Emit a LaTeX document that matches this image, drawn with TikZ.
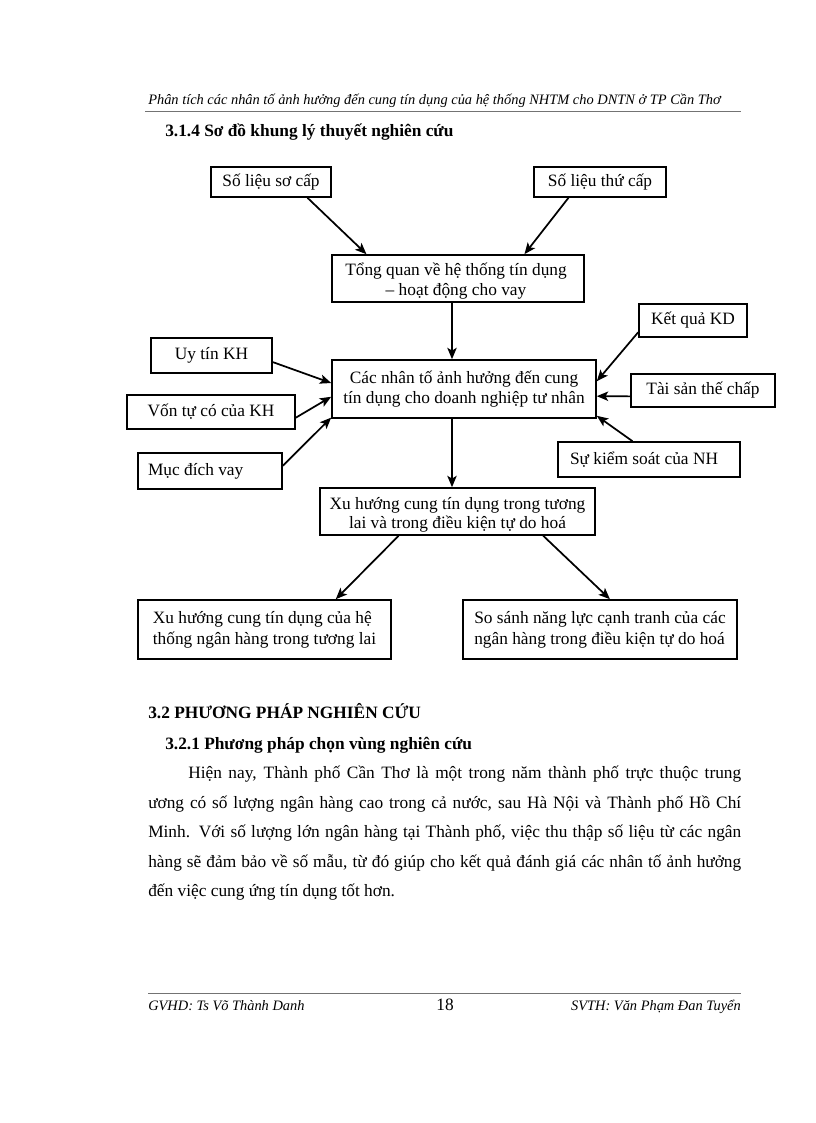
\documentclass[tikz,border=0pt]{standalone}
\usepackage{fontspec}
\setmainfont{Liberation Serif}
\usetikzlibrary{arrows.meta,calc}
\begin{document}
\begin{tikzpicture}[x=0.75pt,y=-0.75pt,
  box/.style={draw, line width=1.2pt, inner sep=0pt, align=center, font=\fontsize{13}{15}\selectfont},
  sz/.style 2 args={minimum width=#1*0.75pt, minimum height=#2*0.75pt},
  arr/.style={-{Stealth[length=8.5pt,width=7pt,inset=2pt]}, line width=1.3pt},
  txt/.style={inner sep=0pt, anchor=base west, font=\fontsize{13}{15}\selectfont},
  ltxt/.style={inner sep=0pt, anchor=base, font=\fontsize{13}{15}\selectfont},
  itx/.style={font=\fontsize{10.8}{13}\selectfont\itshape},
  rule/.style={draw=black!55, line width=0.7pt}]
\useasboundingbox (0,0) rectangle (816,1123);
\fill[white] (0,0) rectangle (816,1123);

% header
\node[txt, itx] (hd) at (148,105) {Phân tích các nhân tố ảnh hưởng đến cung tín dụng của hệ thống NHTM cho DNTN ở TP Cần Thơ};
\draw[rule] (145,111) -- (741,111);
\node[txt, font=\fontsize{13}{15}\selectfont\bfseries] (t1) at (165,137) {3.1.4 Sơ đồ khung lý thuyết nghiên cứu};

% boxes
\node[box, sz={120}{30}] (A) at (271,182) {Số liệu sơ cấp};
\node[box, sz={132}{30}] (B) at (600,182) {Số liệu thứ cấp};
\node[box, sz={252}{47}] (C) at (458,278.5) {};
\begin{scope}
  \clip (C.north west) rectangle (C.south east);
  \node[ltxt] (C1) at (456,275.7) {Tổng quan về hệ thống tín dụng};
  \node[ltxt] (C2) at (456,295) {– hoạt động cho vay};
\end{scope}
\node[box, sz={264}{58}] (D) at (464,389) {Các nhân tố ảnh hưởng đến cung\\tín dụng cho doanh nghiệp tư nhân};
\node[box, sz={108}{33}] (KQ) at (693,320.5) {Kết quả KD};
\node[box, sz={144}{33}] (TS) at (703,390.5) {Tài sản thế chấp};
\node[box, sz={182}{35}, text width=158*0.75pt, inner xsep=9pt, align=flush left] (SKS) at (649,459.5) {Sự kiểm soát của NH};
\node[box, sz={121}{35}] (UT) at (211.5,355.5) {Uy tín KH};
\node[box, sz={168}{34}] (VTC) at (211,412) {Vốn tự có của KH};
\node[box, sz={144}{36}, text width=124*0.75pt, inner xsep=7.5pt, align=flush left] (MDV) at (210,471) {Mục đích vay};
\node[box, sz={275}{47}] (E) at (457.5,511.5) {};
\begin{scope}
  \clip (E.north west) rectangle (E.south east);
  \node[ltxt] (E1) at (457.5,509) {Xu hướng cung tín dụng trong tương};
  \node[ltxt] (E2) at (457.5,528.5) {lai và trong điều kiện tự do hoá};
\end{scope}
\node[box, sz={253}{59}, align=flush left, font=\fontsize{13}{15.75}\selectfont] (F) at (264.5,629.5) {Xu hướng cung tín dụng của hệ\\thống ngân hàng trong tương lai};
\node[box, sz={274}{59}, align=flush left, font=\fontsize{13}{15.75}\selectfont] (G) at (600,629.5) {So sánh năng lực cạnh tranh của các\\ngân hàng trong điều kiện tự do hoá};

% connectors
\coordinate (vx) at (452,0);
\draw[arr] ($(A.south west)!0.8!(A.south east)$) -- ($(C.north west)!0.139!(C.north east)$);
\draw[arr] ($(B.south west)!0.264!(B.south east)$) -- ($(C.north west)!0.762!(C.north east)$);
\draw[arr] (C.south -| vx) -- (D.north -| vx);
\draw[arr] (D.south -| vx) -- (E.north -| vx);
\draw[arr] ($(UT.north east)!0.68!(UT.south east)$) -- ($(D.north west)!0.40!(D.south west)$);
\draw[arr] ($(VTC.north east)!0.66!(VTC.south east)$) -- ($(D.north west)!0.63!(D.south west)$);
\draw[arr] ($(MDV.north east)!0.36!(MDV.south east)$) -- ($(D.north west)!0.98!(D.south west)$);
\draw[arr] ($(KQ.north west)!0.84!(KQ.south west)$) -- ($(D.north east)!0.37!(D.south east)$);
\draw[arr] ($(TS.north west)!0.67!(TS.south west)$) -- ($(D.north east)!0.62!(D.south east)$);
\draw[arr] ($(SKS.north west)!0.41!(SKS.north east)$) -- ($(D.north east)!0.95!(D.south east)$);
\draw[arr] ($(E.south west)!0.287!(E.south east)$) -- ($(F.north west)!0.78!(F.north east)$);
\draw[arr] ($(E.south west)!0.81!(E.south east)$) -- ($(G.north west)!0.536!(G.north east)$);

% section text
\node[txt, font=\fontsize{13}{15}\selectfont\bfseries] (s32) at (148,718) {3.2 PHƯƠNG PHÁP NGHIÊN CỨU};
\node[txt, font=\fontsize{13}{15}\selectfont\bfseries] (s321) at (165,749) {3.2.1 Phương pháp chọn vùng nghiên cứu};
\node[txt] (p1) at (188,778) {\makebox[414.75pt][s]{Hiện nay, Thành phố Cần Thơ là một trong năm thành phố trực thuộc trung}};
\node[txt] (p2) at (148,808) {\makebox[444.75pt][s]{ương có số lượng ngân hàng cao trong cả nước, sau Hà Nội và Thành phố Hồ Chí}};
\node[txt] (p3) at (148,837) {\makebox[444.75pt][s]{Minh. Với số lượng lớn ngân hàng tại Thành phố, việc thu thập số liệu từ các ngân}};
\node[txt] (p4) at (148,867) {\makebox[444.75pt][s]{hàng sẽ đảm bảo về số mẫu, từ đó giúp cho kết quả đánh giá các nhân tố ảnh hưởng}};
\node[txt] (p5) at (148,896) {đến việc cung ứng tín dụng tốt hơn.};

% footer
\draw[rule] (148,993) -- (741,993);
\node[txt, itx] (f1) at (148,1010) {GVHD: Ts Võ Thành Danh};
\node[ltxt] (f2) at (445,1010) {18};
\node[inner sep=0pt, anchor=base east, itx] (f3) at (741,1010) {SVTH: Văn Phạm Đan Tuyển};
\end{tikzpicture}
\end{document}
